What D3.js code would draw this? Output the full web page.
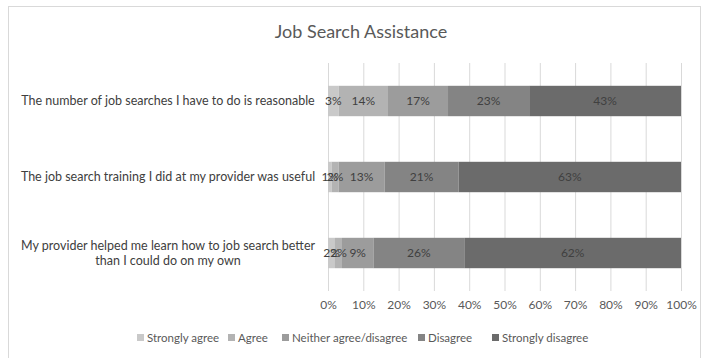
<!DOCTYPE html>
<html>
<head>
<meta charset="utf-8">
<script src="https://cdn.jsdelivr.net/npm/d3@7"></script>
<style>
  body { margin: 0; background: #fff; }
  svg text { font-family: Lato, "Liberation Sans", Arial, sans-serif; }
</style>
</head>
<body>
<svg id="chart" width="702" height="358"></svg>
<script>
// Survey statements (top to bottom) and response shares in percent
const statements = [
  ["The number of job searches I have to do is reasonable"],
  ["The job search training I did at my provider was useful"],
  ["My provider helped me learn how to job search better", "than I could do on my own"]
];
const responses = ["Strongly agree", "Agree", "Neither agree/disagree", "Disagree", "Strongly disagree"];
const stronglyAgree = [3, 1, 2];
const agree = [14, 2, 2];
const neither = [17, 13, 9];
const disagree = [23, 21, 26];
const stronglyDisagree = [43, 63, 62];
const tickValues = [0, 0.1, 0.2, 0.3, 0.4, 0.5, 0.6, 0.7, 0.8, 0.9, 1.0];
const colors = ["#c9c9c9", "#b3b3b3", "#9c9c9c", "#848484", "#6b6b6b"];

const seriesValues = [stronglyAgree, agree, neither, disagree, stronglyDisagree];
const rows = statements.map((s, i) => {
  const r = { key: i };
  responses.forEach((name, j) => r[name] = seriesValues[j][i]);
  r.total = d3.sum(seriesValues, v => v[i]);
  return r;
});

const svg = d3.select("#chart");

// chart frame
svg.append("rect")
  .attr("x", 8.5).attr("y", 6.5).attr("width", 692).attr("height", 360)
  .attr("fill", "none").attr("stroke", "#d9d9d9");

svg.append("text")
  .attr("x", 361).attr("y", 38)
  .attr("text-anchor", "middle")
  .attr("font-size", 18).attr("fill", "#595959")
  .text("Job Search Assistance");

const x = d3.scaleLinear().domain([0, 1]).range([328, 681]);
const y = d3.scaleBand().domain(rows.map(r => r.key)).range([63, 291])
  .paddingInner(0.6).paddingOuter(0.3);

// vertical gridlines
svg.append("g").selectAll("line").data(tickValues).join("line")
  .attr("x1", d => x(d) + 0.5).attr("x2", d => x(d) + 0.5)
  .attr("y1", 63).attr("y2", 291)
  .attr("stroke", "#d9d9d9");

// stacked bars, each row normalised to 100%
const stack = d3.stack().keys(responses)
  .value((r, k) => r[k] / r.total);
const layers = stack(rows);

const g = svg.append("g");
layers.forEach((layer, j) => {
  g.selectAll(null).data(layer).join("rect")
    .attr("x", d => x(d[0]))
    .attr("width", d => x(d[1]) - x(d[0]))
    .attr("y", d => y(d.data.key))
    .attr("height", y.bandwidth())
    .attr("fill", colors[j]);
});

// data labels
layers.forEach((layer, j) => {
  g.selectAll(null).data(layer).join("text")
    .attr("x", d => (x(d[0]) + x(d[1])) / 2)
    .attr("y", d => y(d.data.key) + y.bandwidth() / 2 + 4)
    .attr("text-anchor", "middle")
    .attr("font-size", 12)
    .attr("fill", "#404040")
    .text(d => d.data[responses[j]] + "%");
});

// category labels
const cat = svg.append("g");
rows.forEach((r, i) => {
  const lines = statements[i];
  const cy = y(r.key) + y.bandwidth() / 2;
  const lh = 15;
  lines.forEach((ln, k) => {
    cat.append("text")
      .attr("x", 168)
      .attr("y", cy + 4 + (k - (lines.length - 1) / 2) * lh)
      .attr("text-anchor", "middle")
      .attr("font-size", 12.5)
      .attr("fill", "#404040")
      .text(ln);
  });
});

// x axis labels
const xAxis = d3.axisBottom(x).tickValues(tickValues)
  .tickFormat(d3.format(".0%")).tickSize(0).tickPadding(0);
const ax = svg.append("g").attr("transform", "translate(0,300)").call(xAxis);
ax.select(".domain").remove();
ax.selectAll("text").attr("font-size", 12).attr("fill", "#595959")
  .attr("font-family", "Lato, Liberation Sans, Arial, sans-serif");

// legend
const legendX = [137, 228, 282, 418, 492];
const leg = svg.append("g");
responses.forEach((name, j) => {
  leg.append("rect")
    .attr("x", legendX[j]).attr("y", 334)
    .attr("width", 7).attr("height", 7)
    .attr("fill", colors[j]);
  leg.append("text")
    .attr("x", legendX[j] + 10).attr("y", 342)
    .attr("font-size", 11.5).attr("fill", "#595959")
    .text(name);
});
</script>
</body>
</html>
